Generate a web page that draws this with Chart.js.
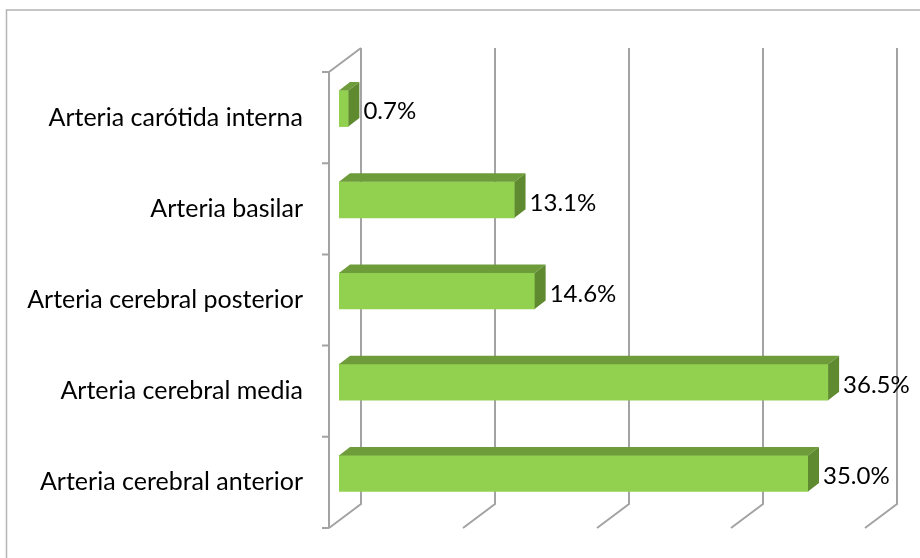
<!DOCTYPE html>
<html lang="es">
<head>
  <meta charset="UTF-8">
  <title>Arterias afectadas</title>
  <script src="https://cdn.jsdelivr.net/npm/chart.js@4.4.1/dist/chart.umd.min.js"></script>
  <style>
    body { margin: 0; background: #fff; }
  </style>
</head>
<body>
  <canvas id="myChart" width="920" height="558"></canvas>
  <script>
    const arterias = [
      'Arteria carótida interna',
      'Arteria basilar',
      'Arteria cerebral posterior',
      'Arteria cerebral media',
      'Arteria cerebral anterior'
    ];
    const porcentajes = [0.7, 13.1, 14.6, 36.5, 35.0];
    const marcasX = [0, 10, 20, 30, 40];

    const verdeFrente = '#92d050';
    const verdeArriba = '#6f9c3a';
    const verdeLado = '#5f8a30';
    const gris = '#a3a3a3';
    const fuente = 'Lato';

    // profundidad de la caja (pared trasera respecto al frente del piso)
    const fondoX = 32, fondoY = 24;
    // profundidad de cada barra
    const barraX = 11, barraY = 8.5;

    const efecto3D = {
      id: 'efecto3D',
      beforeDraw(chart) {
        const ctx = chart.ctx;
        ctx.save();
        ctx.strokeStyle = '#b4b4b4';
        ctx.lineWidth = 1.5;
        ctx.beginPath();
        ctx.moveTo(6.5, chart.height);
        ctx.lineTo(6.5, 10);
        ctx.lineTo(chart.width, 10);
        ctx.stroke();
        ctx.restore();
      },
      beforeDatasetsDraw(chart) {
        const { ctx, chartArea, scales: { x } } = chart;
        const fx = chartArea.left - 10;
        const ft = chartArea.top + 9, fb = chartArea.bottom + 9;
        const banda = (chartArea.bottom - chartArea.top) / arterias.length;

        ctx.save();
        ctx.strokeStyle = gris;
        ctx.lineWidth = 2;
        ctx.beginPath();
        // pared del fondo y piso
        marcasX.forEach(v => {
          const bx = x.getPixelForValue(v) + fondoX - 10;
          ctx.moveTo(bx, ft - fondoY);
          ctx.lineTo(bx, fb - fondoY);
          ctx.lineTo(bx - fondoX, fb);
        });
        // pared izquierda
        const bx0 = x.getPixelForValue(0) + fondoX - 10;
        ctx.moveTo(bx0, ft - fondoY);
        ctx.lineTo(fx, ft);
        ctx.lineTo(fx, fb);
        for (let i = 0; i <= arterias.length; i++) {
          const ty = ft + i * banda;
          ctx.moveTo(fx - 7, ty);
          ctx.lineTo(fx, ty);
        }
        ctx.stroke();
        ctx.restore();
      },
      afterDatasetsDraw(chart) {
        const ctx = chart.ctx;
        const meta = chart.getDatasetMeta(0);
        ctx.save();
        meta.data.forEach((bar, i) => {
          const { x, y, base, height } = bar.getProps(['x', 'y', 'base', 'height'], true);
          const top = y - height / 2, bottom = y + height / 2;

          ctx.fillStyle = verdeArriba;
          ctx.beginPath();
          ctx.moveTo(base, top);
          ctx.lineTo(x, top);
          ctx.lineTo(x + barraX, top - barraY);
          ctx.lineTo(base + barraX, top - barraY);
          ctx.closePath();
          ctx.fill();

          ctx.fillStyle = verdeLado;
          ctx.beginPath();
          ctx.moveTo(x, top);
          ctx.lineTo(x + barraX, top - barraY);
          ctx.lineTo(x + barraX, bottom - barraY);
          ctx.lineTo(x, bottom);
          ctx.closePath();
          ctx.fill();

          ctx.fillStyle = '#000';
          ctx.font = '24px ' + fuente;
          ctx.textAlign = 'left';
          ctx.textBaseline = 'middle';
          ctx.fillText(porcentajes[i].toFixed(1) + '%', x + barraX + 4, y + 3);
        });
        ctx.restore();
      }
    };

    const data = {
      labels: arterias,
      datasets: [{
        data: porcentajes,
        backgroundColor: verdeFrente,
        borderWidth: 0,
        barThickness: 36
      }]
    };

    const config = {
      type: 'bar',
      data,
      options: {
        indexAxis: 'y',
        responsive: false,
        animation: false,
        layout: { padding: { left: 0, right: 45, top: 63, bottom: 39 } },
        plugins: {
          legend: { display: false },
          tooltip: { enabled: false }
        },
        scales: {
          x: { min: 0, max: 40, display: false },
          y: {
            grid: { display: false, drawTicks: false },
            border: { display: false },
            afterFit(scale) {
              scale.width = 339;
              scale.paddingTop = 0;
              scale.paddingBottom = 0;
            },
            ticks: {
              color: '#000',
              padding: 36,
              labelOffset: 9,
              font: { family: fuente, size: 25 }
            }
          }
        }
      },
      plugins: [efecto3D]
    };

    const myChart = new Chart(document.getElementById('myChart'), config);
  </script>
</body>
</html>
